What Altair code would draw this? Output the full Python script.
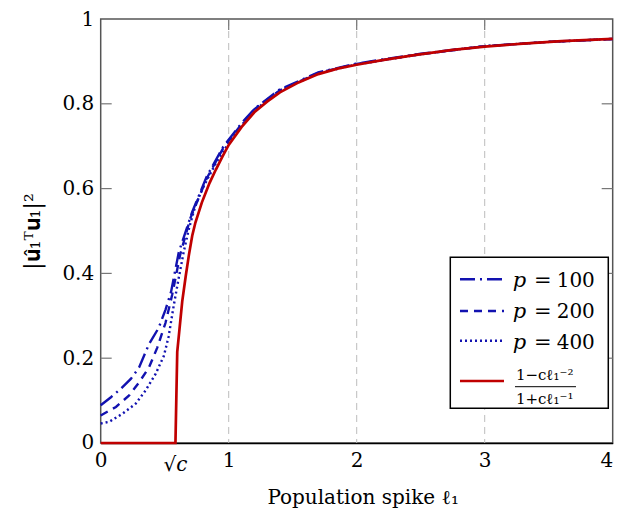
import altair as alt
import pandas as pd

# ---------------- data ----------------
theory_l = [0.0, 0.584, 0.598, 0.637, 0.665, 0.689, 0.715, 0.74, 0.79, 0.85, 0.90, 0.95, 1.00,
            1.10, 1.20, 1.30, 1.40, 1.55, 1.70, 1.85, 2.00, 2.20, 2.45, 2.75, 3.00, 3.30, 3.60, 4.00]
theory_v = [0.0, 0.0, 0.215, 0.334, 0.395, 0.443, 0.489, 0.52, 0.567, 0.613, 0.645, 0.675, 0.703,
            0.745, 0.78, 0.805, 0.827, 0.851, 0.87, 0.883, 0.892, 0.903, 0.915, 0.927, 0.935, 0.942, 0.948, 0.953]

p100_l = [0.0, 0.08, 0.157, 0.235, 0.30, 0.377, 0.452, 0.506, 0.55, 0.61, 0.715, 0.829, 0.958,
          1.10, 1.204, 1.40, 1.70, 2.00, 2.50, 3.00, 3.50, 4.00]
p100_v = [0.089, 0.108, 0.128, 0.151, 0.178, 0.233, 0.271, 0.314, 0.357, 0.45, 0.545, 0.629, 0.699,
          0.754, 0.789, 0.834, 0.874, 0.895, 0.918, 0.936, 0.946, 0.953]

p200_l = [0.0, 0.119, 0.222, 0.30, 0.377, 0.442, 0.506, 0.558, 0.62, 0.70, 0.83, 0.96,
          1.10, 1.20, 1.40, 1.70, 2.00, 2.50, 3.00, 3.50, 4.00]
p200_v = [0.065, 0.085, 0.112, 0.143, 0.178, 0.225, 0.283, 0.349, 0.443, 0.53, 0.625, 0.697,
          0.752, 0.787, 0.832, 0.873, 0.894, 0.917, 0.936, 0.946, 0.953]

p400_l = [0.0, 0.067, 0.17, 0.274, 0.351, 0.429, 0.493, 0.53, 0.571, 0.61, 0.648, 0.689, 0.74,
          0.80, 0.90, 1.00, 1.10, 1.20, 1.40, 1.70, 2.00, 2.50, 3.00, 3.50, 4.00]
p400_v = [0.046, 0.05, 0.069, 0.093, 0.124, 0.163, 0.205, 0.25, 0.325, 0.39, 0.45, 0.505, 0.56,
          0.603, 0.66, 0.708, 0.749, 0.784, 0.831, 0.872, 0.893, 0.917, 0.936, 0.946, 0.953]

series_names = ["p100", "p200", "p400", "theory"]
legend_values = ["100", "200", "400"]
x_tick_values = [0, 0.58, 1, 2, 3, 4]
y_tick_values = [0, 0.2, 0.4, 0.6, 0.8, 1]
inner_y_ticks = [0.2, 0.4, 0.6, 0.8]
grid_x = [1, 2, 3]

x_title = "Population spike ℓ₁"
y_title = "|𝐮̂₁ᵀ𝐮₁|²"
frac_num = "1−cℓ₁⁻²"
frac_den = "1+cℓ₁⁻¹"

# ---------------- styling ----------------
W, H = 512, 424
FONT = "DejaVu Serif"
BLUE = "#1212b0"
RED = "#c00000"
colors = [BLUE, BLUE, BLUE, RED]
dashes = [[15, 5, 2, 5], [8, 6], [2, 3], [1, 0]]

rows = []
for name, xs, ys in [("p100", p100_l, p100_v), ("p200", p200_l, p200_v),
                     ("p400", p400_l, p400_v), ("theory", theory_l, theory_v)]:
    for a, b in zip(xs, ys):
        rows.append({"series": name, "l": a, "v": b})
df = pd.DataFrame(rows)

xscale = alt.Scale(domain=[0, 4], nice=False, zero=False)
yscale = alt.Scale(domain=[0, 1], nice=False)

xaxis = alt.Axis(values=x_tick_values, title=x_title,
                 labelExpr="datum.value == 0.58 ? '√c' : format(datum.value, 'd')",
                 labelBaseline="top",
                 labelPadding={"condition": {"test": "datum.value == 0.58", "value": 12}, "value": 8},
                 labelFontStyle={"condition": {"test": "datum.value == 0.58", "value": "italic"}, "value": "normal"},
                 labelAlign={"condition": {"test": "datum.value == 4", "value": "right"}, "value": "center"},
                 labelFlush=False,
                 titleX=262, titleY=61, titleBaseline="alphabetic", titleAlign="center",
                 domain=True, domainColor="black", domainWidth=1.5)
yaxis = alt.Axis(values=y_tick_values, title=y_title, format="~g",
                 labelBaseline="middle", labelPadding=7, labelFlush=False,
                 titleX=-61, titleY=H / 2, titleAngle=270, titleBaseline="alphabetic",
                 titleAlign="center", titleFontSize=22, domain=False)

X = alt.X("l:Q", scale=xscale, axis=xaxis)
Y = alt.Y("v:Q", scale=yscale, axis=yaxis)

grid = alt.Chart(pd.DataFrame({"l": grid_x})).mark_rule(
    color="#bdbdbd", strokeDash=[7, 5], strokeWidth=1).encode(
    x=X, y=alt.value(0), y2=alt.value(H))

top_ticks = alt.Chart(pd.DataFrame({"l": grid_x})).mark_rule(
    color="#777", strokeWidth=1.2).encode(x=X, y=alt.value(0), y2=alt.value(11))

left_ticks = alt.Chart(pd.DataFrame({"v": inner_y_ticks})).mark_rule(
    color="#777", strokeWidth=1.2).encode(y=Y, x=alt.value(0), x2=alt.value(11))
right_ticks = alt.Chart(pd.DataFrame({"v": inner_y_ticks})).mark_rule(
    color="#777", strokeWidth=1.2).encode(y=Y, x=alt.value(W - 11), x2=alt.value(W))

blue_lines = alt.Chart(df[df.series != "theory"]).mark_line(strokeWidth=2.4).encode(
    x=X, y=Y,
    color=alt.Color("series:N", scale=alt.Scale(domain=series_names, range=colors), legend=None),
    strokeDash=alt.StrokeDash("series:N", scale=alt.Scale(domain=series_names, range=dashes), legend=None),
    order=alt.Order("l:Q"),
)
red_line = alt.Chart(df[df.series == "theory"]).mark_line(strokeWidth=2.7, color=RED).encode(
    x=X, y=Y, order=alt.Order("l:Q"))

# ---------------- manual legend ----------------
one = pd.DataFrame({"k": [0]})
LX0, LX1, LY0, LY1 = 349.6, 507.6, 238.3, 389.3
legend_layers = [
    alt.Chart(one).mark_rect(fill="white", stroke="black", strokeWidth=1.5).encode(
        x=alt.value(LX0), x2=alt.value(LX1), y=alt.value(LY0), y2=alt.value(LY1))
]
row_line_y = [260.3, 292.0, 321.7]
row_text_y = [267.7, 299.3, 330.0]
for i, val in enumerate(legend_values):
    legend_layers.append(
        alt.Chart(one).mark_rule(color=BLUE, strokeWidth=2.4, strokeDash=dashes[i]).encode(
            x=alt.value(359.3), x2=alt.value(403.3), y=alt.value(row_line_y[i])))
    legend_layers.append(
        alt.Chart(one).mark_text(text="p", font=FONT, fontSize=21, fontStyle="italic",
                                 align="left", baseline="alphabetic").encode(
            x=alt.value(412), y=alt.value(row_text_y[i])))
    legend_layers.append(
        alt.Chart(one).mark_text(text="=", font=FONT, fontSize=21,
                                 align="center", baseline="alphabetic").encode(
            x=alt.value(442), y=alt.value(row_text_y[i])))
    legend_layers.append(
        alt.Chart(one).mark_text(text=val, font=FONT, fontSize=20,
                                 align="left", baseline="alphabetic").encode(
            x=alt.value(456), y=alt.value(row_text_y[i])))
legend_layers += [
    alt.Chart(one).mark_rule(color=RED, strokeWidth=2.7).encode(
        x=alt.value(359.3), x2=alt.value(403.3), y=alt.value(362.0)),
    alt.Chart(one).mark_text(text=frac_num, font=FONT, fontSize=15,
                             align="center", baseline="alphabetic").encode(
        x=alt.value(444), y=alt.value(361.5)),
    alt.Chart(one).mark_rule(color="black", strokeWidth=1).encode(
        x=alt.value(414.3), x2=alt.value(475.3), y=alt.value(367.7)),
    alt.Chart(one).mark_text(text=frac_den, font=FONT, fontSize=15,
                             align="center", baseline="alphabetic").encode(
        x=alt.value(444), y=alt.value(385.0)),
]

chart = alt.layer(grid, top_ticks, left_ticks, right_ticks, blue_lines, red_line,
                  *legend_layers).properties(
    width=W, height=H,
    autosize=alt.AutoSizeParams(type="none"),
    padding={"left": 92.7, "top": 11, "right": 1, "bottom": 66},
).configure_view(stroke="#555", strokeWidth=1.5).configure_axis(
    labelFont=FONT, titleFont=FONT, labelFontSize=20, titleFontSize=20,
    labelColor="black", titleColor="black", titleFontWeight="normal",
    grid=False, ticks=False, tickSize=0,
)

chart.save("out.html", embed_options={"renderer": "svg", "actions": False})
